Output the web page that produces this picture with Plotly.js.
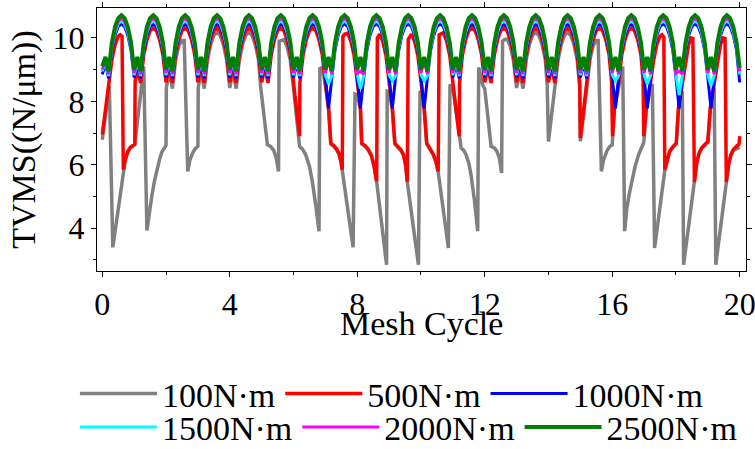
<!DOCTYPE html>
<html><head><meta charset="utf-8">
<script src="https://cdn.plot.ly/plotly-3.0.1.min.js"></script>
<style>html,body{margin:0;padding:0;background:#fff;}#chart{width:755px;height:449px;}</style>
</head><body><div id="chart"></div>
<script>
// ---------------- data ----------------
const seriesNames = ['100N·m', '500N·m', '1000N·m', '1500N·m', '2000N·m', '2500N·m'];
const xTickValues = [0, 4, 8, 12, 16, 20];
const yTickValues = [4, 6, 8, 10];
const xAxisTitle = 'Mesh Cycle';
const yAxisTitle = 'TVMS((N/μm))';
const sampleStart = 0;
const sampleStep = 0.1;

// 2500 N·m, sampled every 0.1 mesh cycle (201 values)
const tvms2500 = [
9.10,9.40,8.95,9.85,10.35,10.63,10.72,10.63,10.35,9.87,
9.00,9.40,8.95,9.85,10.35,10.63,10.72,10.63,10.35,9.87,
9.00,9.40,8.95,9.85,10.35,10.63,10.72,10.63,10.35,9.87,
9.00,9.40,8.95,9.85,10.35,10.63,10.72,10.63,10.35,9.87,
9.00,9.40,8.95,9.85,10.35,10.63,10.72,10.63,10.35,9.87,
9.00,9.40,8.95,9.85,10.35,10.63,10.72,10.63,10.35,9.87,
9.00,9.40,8.95,9.85,10.35,10.63,10.72,10.63,10.35,9.87,
9.00,9.40,8.95,9.85,10.35,10.63,10.72,10.63,10.35,9.87,
9.00,9.40,8.95,9.85,10.35,10.63,10.72,10.63,10.35,9.87,
9.00,9.40,8.95,9.85,10.35,10.63,10.72,10.63,10.35,9.87,
9.00,9.40,8.95,9.85,10.35,10.63,10.72,10.63,10.35,9.87,
9.00,9.40,8.95,9.85,10.35,10.63,10.72,10.63,10.35,9.87,
9.00,9.40,8.95,9.85,10.35,10.63,10.72,10.63,10.35,9.87,
9.00,9.40,8.95,9.85,10.35,10.63,10.72,10.63,10.35,9.87,
9.00,9.40,8.95,9.85,10.35,10.63,10.72,10.63,10.35,9.87,
9.00,9.40,8.95,9.85,10.35,10.63,10.72,10.63,10.35,9.87,
9.00,9.40,8.95,9.85,10.35,10.63,10.72,10.63,10.35,9.87,
9.00,9.40,8.95,9.85,10.35,10.63,10.72,10.63,10.35,9.87,
9.00,9.40,8.95,9.85,10.35,10.63,10.72,10.63,10.35,9.87,
9.00,9.40,8.95,9.85,10.35,10.63,10.72,10.63,10.35,9.87,
9.05];

// 2000 N·m
const tvms2000 = [
9.00,9.32,8.86,9.76,10.25,10.53,10.62,10.53,10.25,9.78,
8.90,9.32,8.86,9.76,10.25,10.53,10.62,10.53,10.25,9.78,
8.90,9.32,8.86,9.76,10.25,10.53,10.62,10.53,10.25,9.78,
8.90,9.32,8.86,9.76,10.25,10.53,10.62,10.53,10.25,9.78,
8.90,9.32,8.86,9.76,10.25,10.53,10.62,10.53,10.25,9.78,
8.90,9.32,8.86,9.76,10.25,10.53,10.62,10.53,10.25,9.78,
8.90,9.32,8.86,9.76,10.25,10.53,10.62,10.53,10.25,9.78,
8.90,9.32,8.86,9.76,10.25,10.53,10.62,10.53,10.25,9.78,
8.88,8.95,8.86,9.76,10.25,10.53,10.62,10.53,10.25,9.78,
8.90,9.32,8.86,9.76,10.25,10.53,10.62,10.53,10.25,9.78,
8.90,9.32,8.86,9.76,10.25,10.53,10.62,10.53,10.25,9.78,
8.90,9.32,8.86,9.76,10.25,10.53,10.62,10.53,10.25,9.78,
8.90,9.32,8.86,9.76,10.25,10.53,10.62,10.53,10.25,9.78,
8.90,9.32,8.86,9.76,10.25,10.53,10.62,10.53,10.25,9.78,
8.90,9.32,8.86,9.76,10.25,10.53,10.62,10.53,10.25,9.78,
8.90,9.32,8.86,9.76,10.25,10.53,10.62,10.53,10.25,9.78,
8.90,9.32,8.86,9.76,10.25,10.53,10.62,10.53,10.25,9.78,
8.90,9.32,8.86,9.76,10.25,10.53,10.62,10.53,10.25,9.78,
8.88,8.95,8.86,9.76,10.25,10.53,10.62,10.53,10.25,9.78,
8.90,9.32,8.86,9.76,10.25,10.53,10.62,10.53,10.25,9.78,
8.95];

// 1500 N·m
const tvms1500 = [
8.95,9.27,8.80,9.69,10.17,10.45,10.54,10.45,10.17,9.71,
8.83,9.27,8.80,9.69,10.17,10.45,10.54,10.45,10.17,9.71,
8.83,9.27,8.80,9.69,10.17,10.45,10.54,10.45,10.17,9.71,
8.83,9.27,8.80,9.69,10.17,10.45,10.54,10.45,10.17,9.71,
8.83,9.27,8.80,9.69,10.17,10.45,10.54,10.45,10.17,9.71,
8.83,9.27,8.80,9.69,10.17,10.45,10.54,10.45,10.17,9.71,
8.83,9.27,8.80,9.69,10.17,10.45,10.54,10.45,10.17,9.71,
8.83,8.55,8.80,9.69,10.17,10.45,10.54,10.45,10.17,9.71,
8.83,8.40,8.80,9.69,10.17,10.45,10.54,10.45,10.17,9.71,
8.83,8.65,8.80,9.69,10.17,10.45,10.54,10.45,10.17,9.71,
8.83,8.65,8.80,9.69,10.17,10.45,10.54,10.45,10.17,9.71,
8.83,9.27,8.80,9.69,10.17,10.45,10.54,10.45,10.17,9.71,
8.83,9.27,8.80,9.69,10.17,10.45,10.54,10.45,10.17,9.71,
8.83,9.27,8.80,9.69,10.17,10.45,10.54,10.45,10.17,9.71,
8.83,9.27,8.80,9.69,10.17,10.45,10.54,10.45,10.17,9.71,
8.83,9.27,8.80,9.69,10.17,10.45,10.54,10.45,10.17,9.71,
8.83,8.65,8.80,9.69,10.17,10.45,10.54,10.45,10.17,9.71,
8.83,8.55,8.80,9.69,10.17,10.45,10.54,10.45,10.17,9.71,
8.83,8.20,8.80,9.69,10.17,10.45,10.54,10.45,10.17,9.71,
8.83,8.50,8.80,9.69,10.17,10.45,10.54,10.45,10.17,9.71,
8.85];

// 1000 N·m
const tvms1000 = [
8.85,9.20,8.72,9.60,10.09,10.36,10.45,10.36,10.09,9.62,
8.75,9.20,8.72,9.60,10.09,10.36,10.45,10.36,10.09,9.62,
8.75,9.20,8.72,9.60,10.09,10.36,10.45,10.36,10.09,9.62,
8.75,9.20,8.72,9.60,10.09,10.36,10.45,10.36,10.09,9.62,
8.75,9.20,8.72,9.60,10.09,10.36,10.45,10.36,10.09,9.62,
8.75,9.20,8.72,9.60,10.09,10.36,10.45,10.36,10.09,9.62,
8.75,9.20,8.72,9.60,10.09,10.36,10.45,10.36,10.09,9.62,
8.75,7.78,8.72,9.60,10.09,10.36,10.45,10.36,10.09,9.62,
8.75,7.78,8.72,9.60,10.09,10.36,10.45,10.36,10.09,9.62,
8.75,7.78,8.72,9.60,10.09,10.36,10.45,10.36,10.09,9.62,
8.75,7.78,8.72,9.60,10.09,10.36,10.45,10.36,10.09,9.62,
8.75,9.20,8.72,9.60,10.09,10.36,10.45,10.36,10.09,9.62,
8.75,9.20,8.72,9.60,10.09,10.36,10.45,10.36,10.09,9.62,
8.75,9.20,8.72,9.60,10.09,10.36,10.45,10.36,10.09,9.62,
8.75,9.20,8.72,9.60,10.09,10.36,10.45,10.36,10.09,9.62,
8.75,9.20,8.72,9.60,10.09,10.36,10.45,10.36,10.09,9.62,
8.75,7.78,8.72,9.60,10.09,10.36,10.45,10.36,10.09,9.62,
8.75,7.78,8.72,9.60,10.09,10.36,10.45,10.36,10.09,9.62,
8.75,7.78,8.72,9.60,10.09,10.36,10.45,10.36,10.09,9.62,
8.75,7.78,8.72,9.60,10.09,10.36,10.45,10.36,10.09,9.62,
8.60];

// 500 N·m (vertices)
const x500 = [
0,0.1,0.22,0.3,0.4,0.5,0.56,0.62,0.66,0.72,0.8,0.88,1.02,1.03,1.1,1.2,
1.3,1.4,1.5,1.6,1.7,1.8,1.9,
2,2.1,2.2,2.3,2.4,2.5,2.6,2.7,2.8,2.9,
3,3.1,3.2,3.3,3.4,3.5,3.6,3.7,3.8,3.9,
4,4.1,4.2,4.3,4.4,4.5,4.6,4.7,4.8,4.9,
5,5.1,5.2,5.3,5.4,5.5,5.6,5.7,5.8,5.9,
6,6.19,6.2,6.3,6.4,6.5,6.6,6.7,6.8,6.9,
7,7.1,7.17,7.27,7.35,7.43,7.49,7.53,7.55,7.6,7.7,7.8,7.9,
8,8.1,8.14,8.25,8.35,8.45,8.53,8.61,8.63,8.7,8.8,8.9,
9,9.1,9.18,9.29,9.37,9.45,9.52,9.57,9.6,9.7,9.8,9.9,
10,10.1,10.18,10.28,10.39,10.47,10.54,10.57,10.7,10.8,10.9,
11,11.2,11.21,11.3,11.4,11.5,11.6,11.7,11.8,11.9,
12,12.1,12.2,12.3,12.4,12.5,12.6,12.7,12.8,12.9,
13,13.1,13.2,13.3,13.4,13.5,13.6,13.7,13.8,13.9,
14,14.1,14.2,14.3,14.4,14.5,14.6,14.7,14.8,14.9,
14.98,15,15.2,15.3,15.4,15.5,15.6,15.7,15.8,15.9,
15.98,16.01,16.07,16.2,16.3,16.4,16.5,16.6,16.7,16.8,16.9,
16.97,16.99,17.07,17.2,17.3,17.4,17.5,17.56,17.62,17.65,17.72,17.8,17.9,18.01,
18.08,18.2,18.3,18.4,18.47,18.53,18.58,18.65,18.72,18.8,18.9,19,
19.08,19.2,19.3,19.4,19.48,19.54,19.58,19.65,19.72,19.8,19.9,19.98,20];
const tvms500 = [
6.95,7.72,8.55,9.3,9.78,10.05,10.1,10.05,5.84,6.16,6.42,6.55,6.65,8.62,9.08,8.58,
9.46,9.94,10.23,10.32,10.23,9.94,9.48,
8.6,9.08,8.58,9.46,9.94,10.23,10.32,10.23,9.94,9.48,
8.6,9.08,8.58,9.46,9.94,10.23,10.32,10.23,9.94,9.48,
8.6,9.08,8.58,9.46,9.94,10.23,10.32,10.23,9.94,9.48,
8.6,9.08,8.58,9.46,9.94,10.23,10.32,10.23,9.94,9.48,
8.6,6.9,8.58,9.46,9.94,10.23,10.32,10.23,9.94,9.48,
8.6,7.8,6.68,6.6,6.5,6.35,6.1,5.84,10.05,10.12,10.15,9.9,9.45,
8.6,7.8,6.68,6.6,6.48,6.28,5.95,5.47,10.0,10.12,9.9,9.45,
8.6,7.8,6.68,6.58,6.47,6.32,6.0,5.47,9.95,10.12,9.9,9.45,
8.6,7.8,6.68,6.52,6.32,6.1,5.79,10.1,10.17,9.92,9.46,
8.6,6.9,8.58,9.46,9.94,10.23,10.32,10.23,9.94,9.48,
8.6,9.08,8.58,9.46,9.94,10.23,10.32,10.23,9.94,9.48,
8.6,9.08,8.58,9.46,9.94,10.23,10.32,10.23,9.94,9.48,
8.6,9.08,8.58,9.46,9.94,10.23,10.32,10.23,9.94,9.48,
8.6,6.84,8.58,9.46,9.94,10.23,10.32,10.23,9.94,9.48,
8.62,6.9,7.8,8.58,9.46,9.94,10.23,10.32,10.23,9.94,9.48,
8.65,6.9,7.8,8.58,9.3,9.8,10.05,10.1,10.02,5.84,6.16,6.42,6.56,6.68,
7.8,8.58,9.3,9.8,10.0,9.98,5.45,6.05,6.35,6.52,6.63,6.73,
7.8,8.58,9.3,9.8,10.0,9.98,5.45,6.0,6.3,6.48,6.58,6.65,6.9];

// 100 N·m (vertices)
const x100 = [
0,0.1,0.22,0.33,0.67,0.72,0.8,0.88,1.02,1.3,1.4,1.48,1.56,1.64,1.72,1.8,1.87,1.94,2,
2.01,2.1,2.2,2.3,2.4,2.5,2.57,2.68,2.75,2.85,2.93,3,
3.01,3.1,3.2,3.3,3.4,3.5,3.6,3.7,3.8,3.9,
4,4.1,4.2,4.3,4.4,4.5,4.6,4.7,4.8,4.9,
4.97,5.18,5.28,5.38,5.46,5.53,5.55,5.65,5.7,5.8,5.9,
6,6.19,6.29,6.38,6.5,6.59,6.7,6.8,6.83,6.92,
7,7.1,7.17,7.27,7.35,7.43,7.49,7.53,7.87,7.93,
8,8.1,8.14,8.25,8.35,8.45,8.53,8.61,8.92,8.94,
9,9.1,9.18,9.29,9.37,9.45,9.52,9.57,9.92,9.97,
10,10.1,10.18,10.28,10.39,10.47,10.54,10.86,10.91,
11,11.2,11.26,11.34,11.41,11.5,11.57,11.68,11.78,11.81,11.93,
12,12.2,12.3,12.38,12.46,12.53,12.56,12.62,12.7,12.8,12.9,
13,13.1,13.2,13.3,13.4,13.5,13.6,13.7,13.8,13.9,
13.96,14,14.2,14.3,14.4,14.5,14.6,14.7,14.8,14.9,
14.98,15,15.2,15.3,15.4,15.5,15.56,15.66,15.73,15.84,15.92,16,
16.07,16.2,16.33,16.39,16.46,16.54,16.62,16.72,16.83,16.93,16.99,
17.07,17.2,17.26,17.33,17.65,17.72,17.8,17.9,18.01,
18.08,18.2,18.24,18.58,18.65,18.72,18.8,18.9,19,
19.08,19.2,19.25,19.58,19.65,19.72,19.8,19.9,20];
const tvms100 = [
6.79,7.6,8.5,3.39,5.82,6.14,6.4,6.53,6.63,9.1,3.92,4.55,5.05,5.5,5.9,6.18,6.4,6.53,6.61,
8.42,8.95,8.4,9.3,9.75,9.92,9.92,5.79,6.15,6.4,6.52,6.58,
8.42,8.95,8.4,9.3,9.79,10.08,10.18,10.08,9.79,9.32,
8.42,8.95,8.4,9.3,9.79,10.08,10.18,10.08,9.79,9.32,
8.45,6.63,6.58,6.45,6.2,5.79,9.9,9.95,9.95,9.72,9.3,
8.42,6.58,6.48,6.32,5.95,5.47,4.7,3.9,9.07,9.0,
8.5,7.75,6.65,6.57,6.47,6.32,6.07,5.82,3.39,8.23,
8.2,7.75,6.65,6.57,6.45,6.25,5.92,5.45,2.84,8.32,
8.3,7.75,6.65,6.55,6.44,6.3,5.97,5.45,2.84,8.32,
8.3,7.75,6.65,6.5,6.3,6.07,5.77,3.37,8.53,
8.42,6.8,6.53,6.45,6.32,6.05,5.68,4.85,3.9,9.07,8.53,
8.4,6.58,6.53,6.43,6.21,5.74,9.9,9.95,9.97,9.75,9.3,
8.42,8.95,8.4,9.3,9.79,10.08,10.18,10.08,9.79,9.32,
8.5,6.73,8.4,9.3,9.79,10.08,10.18,10.08,9.79,9.32,
8.45,6.74,8.4,9.3,9.75,9.92,9.92,5.79,6.15,6.45,6.57,6.63,
7.75,8.4,9.1,3.9,4.63,5.1,5.47,5.95,6.32,6.55,6.7,
7.75,8.4,8.55,3.37,5.82,6.14,6.4,6.54,6.66,
7.75,8.32,2.84,5.43,6.03,6.33,6.5,6.61,6.71,
7.75,8.42,2.84,5.43,5.98,6.28,6.46,6.5,6.55];

// ---------------- styles ----------------
const seriesColors = ['#808080', '#ff0000', '#0000ff', '#00ffff', '#ff00ff', '#008000'];
const seriesWidths = [3.5, 3.5, 3, 3, 3, 4];
const legendRow = ['legend', 'legend', 'legend', 'legend2', 'legend2', 'legend2'];

const traces = [
  {x: x100, y: tvms100},
  {x: x500, y: tvms500},
  {y: tvms1000, x0: sampleStart, dx: sampleStep},
  {y: tvms1500, x0: sampleStart, dx: sampleStep},
  {y: tvms2000, x0: sampleStart, dx: sampleStep},
  {y: tvms2500, x0: sampleStart, dx: sampleStep}
].map((t, i) => Object.assign(t, {
  type: 'scatter', mode: 'lines', name: seriesNames[i],
  line: {color: seriesColors[i], width: seriesWidths[i]},
  legend: legendRow[i],
  hoverinfo: 'skip'
}));

const fontFamily = '"Liberation Serif", "Times New Roman", serif';
const axisCommon = {
  ticks: 'outside', ticklen: 5, tickwidth: 1, tickcolor: '#000',
  showline: true, linecolor: '#000', linewidth: 1, mirror: 'ticks',
  showgrid: false, zeroline: false, ticklabeloverflow: 'allow',
  tickfont: {size: 32, family: fontFamily, color: '#000'}
};
const legendCommon = {
  orientation: 'h', x: -0.034, xanchor: 'left', yanchor: 'top',
  font: {size: 34, family: fontFamily, color: '#000'},
  itemwidth: 77, bgcolor: 'rgba(0,0,0,0)', borderwidth: 0, traceorder: 'normal'
};

const layout = {
  width: 755, height: 449,
  margin: {l: 97, r: 9, t: 8, b: 178, pad: 0, autoexpand: false},
  paper_bgcolor: '#fff', plot_bgcolor: '#fff',
  font: {family: fontFamily, size: 32, color: '#000'},
  showlegend: true,
  xaxis: Object.assign({}, axisCommon, {
    range: [-0.166, 20.198],
    tickmode: 'array', tickvals: xTickValues, ticktext: xTickValues.map(String),
    minor: {tickmode: 'linear', tick0: 0, dtick: 2, ticks: 'outside', ticklen: 3, tickwidth: 1, tickcolor: '#000'}
  }),
  yaxis: Object.assign({}, axisCommon, {
    range: [2.643, 10.947],
    tickmode: 'array', tickvals: yTickValues, ticktext: yTickValues.map(String),
    minor: {tickmode: 'linear', tick0: 0, dtick: 1, ticks: 'outside', ticklen: 3, tickwidth: 1, tickcolor: '#000'},
    title: {text: yAxisTitle, font: {size: 34, family: fontFamily, color: '#000'}, standoff: 6}
  }),
  annotations: [{
    text: xAxisTitle, xref: 'paper', yref: 'paper', x: 0.5, y: -0.2,
    xanchor: 'center', yanchor: 'middle', showarrow: false, borderpad: 0,
    font: {size: 34, family: fontFamily, color: '#000'}
  }],
  legend: Object.assign({}, legendCommon, {y: -0.357}),
  legend2: Object.assign({}, legendCommon, {y: -0.484})
};

Plotly.newPlot('chart', traces, layout, {staticPlot: true, displayModeBar: false});
</script>
</body></html>
